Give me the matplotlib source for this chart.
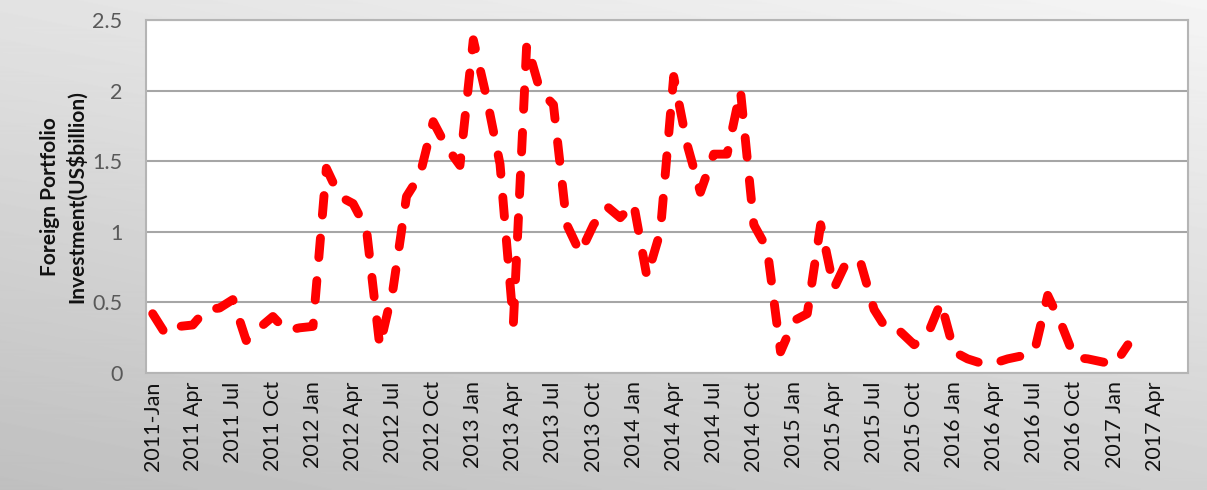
import numpy as np
import matplotlib
matplotlib.use('Agg')
import matplotlib.pyplot as plt

# monthly foreign portfolio investment, 2011 Jan .. 2017 Feb (US$ billion)
fpi = [0.42, 0.27, 0.33, 0.34, 0.45, 0.46, 0.52, 0.23, 0.32, 0.40, 0.30, 0.32,
       0.33, 1.45, 1.25, 1.20, 1.02, 0.19, 0.60, 1.25, 1.40, 1.78, 1.60, 1.47,
       2.36, 1.95, 1.48, 0.35, 2.33, 2.00, 1.90, 1.05, 0.85, 1.05, 1.18, 1.10,
       1.20, 0.68, 1.00, 2.10, 1.62, 1.28, 1.55, 1.55, 2.00, 1.05, 0.88, 0.15,
       0.37, 0.42, 1.05, 0.60, 0.80, 0.78, 0.45, 0.30, 0.29, 0.20, 0.27, 0.50,
       0.15, 0.10, 0.07, 0.07, 0.10, 0.12, 0.15, 0.55, 0.35, 0.11, 0.10, 0.08,
       0.06, 0.20]

# axis categories run to 2017 Jun, labelled every third month
n_months = 78
tick_labels = ['2011-Jan', '2011 Apr', '2011 Jul', '2011 Oct',
               '2012 Jan', '2012 Apr', '2012 Jul', '2012 Oct',
               '2013 Jan', '2013 Apr', '2013 Jul', '2013 Oct',
               '2014 Jan', '2014 Apr', '2014 Jul', '2014 Oct',
               '2015 Jan', '2015 Apr', '2015 Jul', '2015 Oct',
               '2016 Jan', '2016 Apr', '2016 Jul', '2016 Oct',
               '2017 Jan', '2017 Apr']
y_ticks = [0, 0.5, 1, 1.5, 2, 2.5]
y_tick_labels = ['0', '0.5', '1', '1.5', '2', '2.5']

plt.rcParams['font.family'] = ['Lato', 'DejaVu Sans']

W, H = 1207, 490
fig = plt.figure(figsize=(W / 100, H / 100), dpi=100)

# grey gradient backdrop like the office chart style
yy, xx = np.mgrid[0:H, 0:W]
shade = 0.96 - 0.14 * (yy / H) - 0.07 * (1 - xx / W)
bg = fig.add_axes([0, 0, 1, 1], zorder=-10)
bg.imshow(shade, cmap='gray', vmin=0, vmax=1, aspect='auto')
bg.axis('off')

ax = fig.add_axes([146 / W, 1 - 373 / H, (1188 - 146) / W, (373 - 20) / H])
ax.set_facecolor('white')

x = np.arange(len(fpi))
ax.plot(x, fpi, color='#ff0000', lw=6.4, linestyle=(0, (2.2, 2.6)),
        dash_capstyle='round', dash_joinstyle='round', zorder=3)

ax.set_xlim(-0.5, n_months - 0.5)
ax.set_ylim(0, 2.5)
ax.set_yticks(y_ticks)
ax.set_yticklabels(y_tick_labels, fontsize=15.5, color='#595959')
ax.set_xticks(np.arange(0, 3 * len(tick_labels), 3))
ax.set_xticklabels(tick_labels, rotation=90, fontsize=15.5, color='#111111')
ax.tick_params(axis='both', length=0)
ax.tick_params(axis='x', pad=6)
ax.tick_params(axis='y', pad=17)

ax.grid(axis='y', color='#a6a6a6', lw=1.5)
ax.set_axisbelow(True)
for s in ax.spines.values():
    s.set_color('#b5b5b5')
    s.set_linewidth(1.5)

ax.set_ylabel('Foreign Portfolio\nInvestment(US\\$billion)', fontsize=15,
              fontweight='bold', color='#111111', labelpad=4, linespacing=1.3)

fig.savefig('out.png', dpi=100)
